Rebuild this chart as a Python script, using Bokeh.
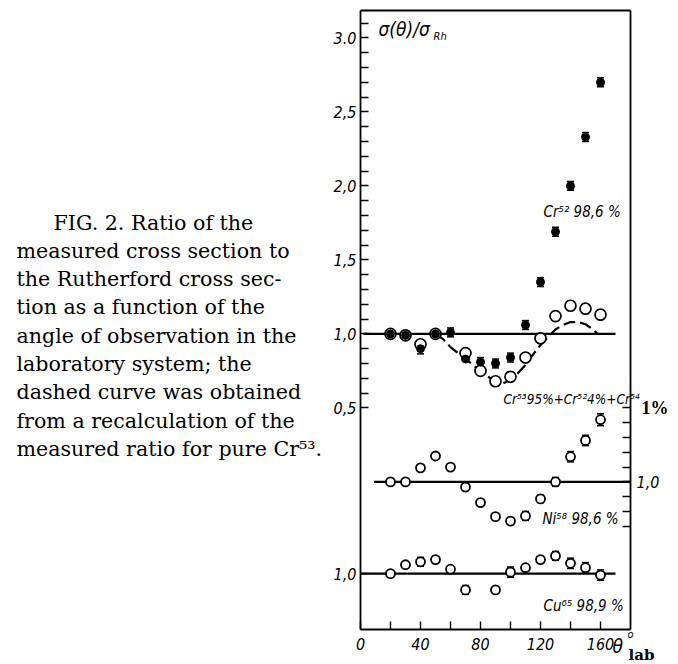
from bokeh.plotting import figure
from bokeh.models import Range1d, LinearAxis, FixedTicker, Label, ColumnDataSource, Whisker, TeeHead
from bokeh.embed import file_html
from bokeh.resources import INLINE

# ---------------- data ----------------
angles = [20, 30, 40, 50, 60, 70, 80, 90, 100, 110, 120, 130, 140, 150, 160]
cr52 = [1.00, 0.99, 0.90, 1.00, 1.01, 0.83, 0.81, 0.80, 0.84, 1.06, 1.35, 1.69, 2.00, 2.33, 2.70]
cr52_err = [0, 0, 0.035, 0, 0.03, 0, 0.03, 0.03, 0.03, 0.03, 0.03, 0.03, 0.03, 0.03, 0.03]

cr53_angles = [20, 30, 40, 50, 70, 80, 90, 100, 110, 120, 130, 140, 150, 160]
cr53 = [1.00, 0.99, 0.93, 1.00, 0.87, 0.75, 0.68, 0.71, 0.84, 0.97, 1.12, 1.19, 1.17, 1.13]
cr53_err = [0, 0, 0, 0, 0, 0, 0.03, 0.03, 0.03, 0, 0.03, 0.03, 0.03, 0.03]

curve_angles = [50, 55, 60, 65, 70, 75, 80, 85, 90, 95, 100, 105, 110, 115, 120, 125, 130, 135, 140, 145, 150, 155, 158]
curve_cr53 = [1.00, 0.965, 0.91, 0.87, 0.83, 0.79, 0.75, 0.71, 0.68, 0.665, 0.69, 0.735, 0.79, 0.86, 0.925, 0.98, 1.03, 1.06, 1.08, 1.08, 1.065, 1.03, 1.00]

ni58 = [1.00, 1.00, 1.095, 1.175, 1.10, 0.965, 0.86, 0.765, 0.735, 0.77, 0.885, 1.00, 1.17, 1.28, 1.42]
ni58_err = [0, 0, 0, 0, 0, 0, 0, 0, 0, 0.03, 0.025, 0.03, 0.035, 0.035, 0.04]

cu_angles = [20, 30, 40, 50, 60, 70, 90, 100, 110, 120, 130, 140, 150, 160]
cu65 = [1.00, 1.06, 1.08, 1.095, 1.03, 0.89, 0.89, 1.01, 1.04, 1.095, 1.12, 1.07, 1.04, 0.99]
cu65_err = [0, 0, 0.03, 0, 0, 0.03, 0, 0.035, 0, 0, 0.03, 0.035, 0.035, 0.035]

# reference lines (ratio = 1) and their angular extent
cr_line = ([2, 170], [1.0, 1.0])
ni_line = ([9, 180], [1.0, 1.0])
cu_line = ([0, 170], [1.0, 1.0])

# vertical shifts of the stacked Ni and Cu curves
NI_SHIFT = -1.0
CU_SHIFT = -1.62

# axes extents
X_MIN, X_MAX = 0, 180
Y_MIN, Y_MAX = -1.0, 3.185

left_ticks = [0.5, 1.0, 1.5, 2.0, 2.5, 3.0]
left_tick_labels = ["0,5", "1,0", "1,5", "2,0", "2,5", "3.0"]
x_tick_labels = ["0", "40", "80", "120", "160"]

caption = ["FIG. 2. Ratio of the",
           "measured cross section to",
           "the Rutherford cross sec-",
           "tion as a function of the",
           "angle of observation in the",
           "laboratory system; the",
           "dashed curve was obtained",
           "from a recalculation of the",
           "measured ratio for pure Cr\u2075\u00b3."]

# ---------------- figure ----------------
FONT = "'DejaVu Sans Condensed', 'DejaVu Sans'"
SERIF = "'DejaVu Serif'"

W, H = 676, 662
PX_X0, PX_PER_X = 360.0, 1.5       # canvas pixel of angle 0, pixels per degree
PX_YTOP, PX_PER_Y = 10.0, 148.0    # canvas pixel of Y_MAX, pixels per unit


def px2x(px):
    return X_MIN + (px - PX_X0) / PX_PER_X


def px2y(py):
    return Y_MAX - (py - PX_YTOP) / PX_PER_Y


p = figure(width=W, height=H, output_backend="svg", toolbar_location=None,
           x_range=Range1d(px2x(0), px2x(W)), y_range=Range1d(px2y(H), px2y(0)),
           min_border=0, min_border_left=0, min_border_right=0, min_border_top=0, min_border_bottom=0,
           x_axis_type=None, y_axis_type=None)
p.grid.visible = False
p.outline_line_color = None
p.background_fill_color = "white"
p.border_fill_color = "white"


def style_axis(ax):
    ax.axis_line_width = 1.8
    ax.axis_line_color = "black"
    ax.major_tick_in = 8
    ax.major_tick_out = 0
    ax.minor_tick_in = 0
    ax.minor_tick_out = 0
    ax.major_tick_line_width = 1.4
    ax.major_label_text_font = FONT
    ax.major_label_text_font_style = "italic"
    ax.major_label_text_font_size = "16px"
    ax.major_label_text_color = "black"


# left axis
lt = [round(0.5 + 0.1 * i, 1) for i in range(27)] + [round(CU_SHIFT + 1.0, 2)]
ov = {t: "" for t in lt}
for t, s in zip(left_ticks, left_tick_labels):
    ov[t] = s
ov[round(CU_SHIFT + 1.0, 2)] = "1,0"
yl = LinearAxis(ticker=FixedTicker(ticks=lt), major_label_overrides=ov, major_label_standoff=4,
                fixed_location=X_MIN, bounds=(Y_MIN, Y_MAX))
style_axis(yl)
p.add_layout(yl, "left")

# bottom axis
bt = list(range(0, 161, 20))
bov = {t: "" for t in bt}
for s in x_tick_labels:
    bov[int(s)] = s
xb = LinearAxis(ticker=FixedTicker(ticks=bt), major_label_overrides=bov, major_label_standoff=8,
                fixed_location=Y_MIN, bounds=(X_MIN, X_MAX))
style_axis(xb)
p.add_layout(xb, "below")

# right axis (Ni scale)
rt = [round(0.7 + 0.1 * i + NI_SHIFT, 2) for i in range(9)]
rov = {t: "" for t in rt}
rov[round(1.0 + NI_SHIFT, 2)] = "1,0"
yr = LinearAxis(ticker=FixedTicker(ticks=rt), major_label_overrides=rov, major_label_standoff=6,
                fixed_location=X_MAX, bounds=(Y_MIN, Y_MAX))
style_axis(yr)
p.add_layout(yr, "right")

# top frame line
xt = LinearAxis(ticker=FixedTicker(ticks=[]), fixed_location=Y_MAX, bounds=(X_MIN, X_MAX))
style_axis(xt)
p.add_layout(xt, "above")

# reference lines
p.line(cr_line[0], cr_line[1], line_color="black", line_width=2.2)
p.line(ni_line[0], [v + NI_SHIFT for v in ni_line[1]], line_color="black", line_width=2.2)
p.line(cu_line[0], [v + CU_SHIFT for v in cu_line[1]], line_color="black", line_width=2.2)

# dashed recalculated curve
p.line(curve_angles, curve_cr53, line_color="black", line_width=2.2, line_dash="12 5")


def whiskers(xs, ys, errs, shift=0.0):
    xx, lo, hi = [], [], []
    for x, y, e in zip(xs, ys, errs):
        if e > 0:
            xx.append(x)
            lo.append(y + shift - e)
            hi.append(y + shift + e)
    src = ColumnDataSource(dict(x=xx, lo=lo, hi=hi))
    w = Whisker(source=src, base="x", lower="lo", upper="hi", dimension="height",
                line_color="black", line_width=1.5,
                lower_head=TeeHead(size=7, line_width=1.5, line_color="black"),
                upper_head=TeeHead(size=7, line_width=1.5, line_color="black"))
    p.add_layout(w)


whiskers(angles, cr52, cr52_err)
whiskers(cr53_angles, cr53, cr53_err)
whiskers(angles, ni58, ni58_err, NI_SHIFT)
whiskers(cu_angles, cu65, cu65_err, CU_SHIFT)

# Cr53 mixture (open) and Cr52 (filled)
p.scatter(cr53_angles, cr53, marker="circle", size=11, fill_color="white",
          line_color="black", line_width=1.7)
p.scatter(angles, cr52, marker="circle", size=8, fill_color="black", line_color="black")
p.scatter(angles, [v + NI_SHIFT for v in ni58], marker="circle", size=9, fill_color="white",
          line_color="black", line_width=1.8)
p.scatter(cu_angles, [v + CU_SHIFT for v in cu65], marker="circle", size=9, fill_color="white",
          line_color="black", line_width=1.8)


def lab(x, y, text, size, font=FONT, style="italic", align="left"):
    p.add_layout(Label(x=px2x(x), y=px2y(y), text=text, text_font=font, text_font_style=style,
                       text_font_size=size, text_baseline="middle", text_align=align,
                       text_color="black"))


# y title
lab(378, 28, "\u03c3(\u03b8)/\u03c3", "19px")
lab(433, 36, "Rh", "11px")

# series labels
lab(543, 211, "Cr\u2075\u00b2 98,6 %", "15px")
lab(503, 398, "Cr\u2075\u00b395%+Cr\u2075\u00b24%+Cr\u2075\u2074", "13.5px")
lab(641, 407, "1%", "18px", font="'Liberation Serif', 'DejaVu Serif'", style="bold")
lab(542, 518, "Ni\u2075\u2078 98,6 %", "15px")
lab(543, 605, "Cu\u2076\u2075 98,9 %", "15px")

# x title
lab(612, 645, "\u03b8", "19px")
lab(627, 634, "o", "11px")
lab(628, 654, "lab", "15px", font=SERIF, style="bold")

# caption
for i, line in enumerate(caption):
    x0 = 53 if i == 0 else 16
    lab(x0, 222 + 28.3 * i, line, "20.6px", font=SERIF, style="normal")

open("out.html", "w").write(file_html(p, INLINE))
